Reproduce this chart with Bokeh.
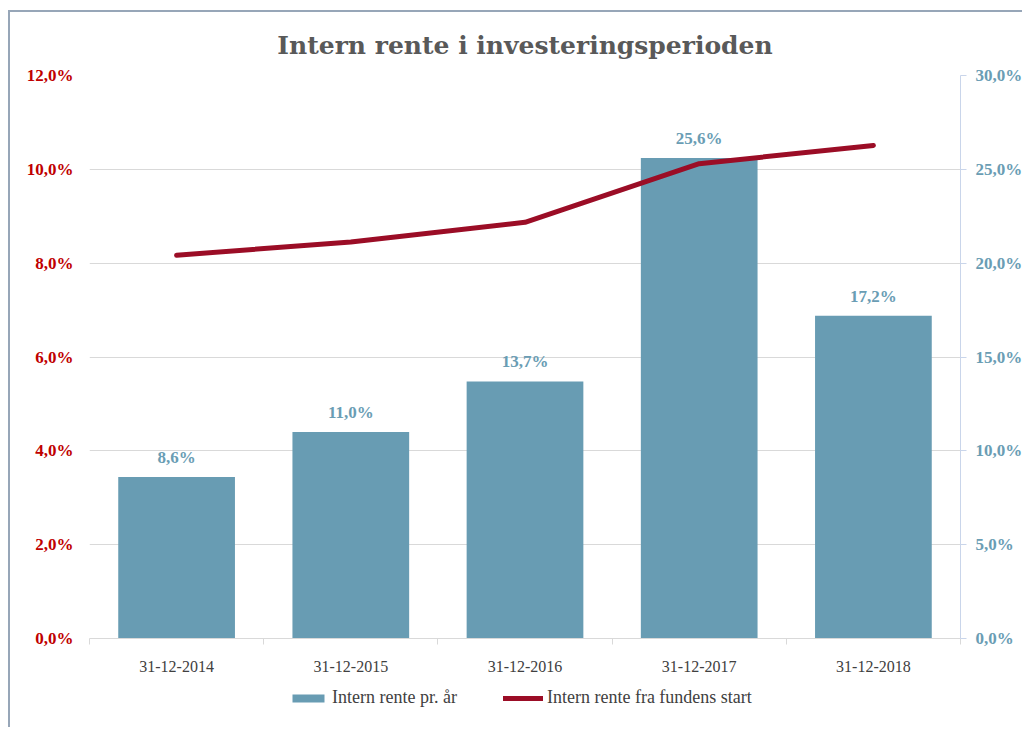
from bokeh.plotting import figure
from bokeh.layouts import column
from bokeh.models import (Range1d, LinearAxis, FixedTicker, Legend, LegendItem,
                          ColumnDataSource, LabelSet)
from bokeh.embed import file_html
from bokeh.resources import INLINE

# ---- data ----
categories = ["31-12-2014", "31-12-2015", "31-12-2016", "31-12-2017", "31-12-2018"]
bar_values = [8.6, 11.0, 13.7, 25.6, 17.2]          # Intern rente pr. år (right axis, %)
bar_labels = ["8,6%", "11,0%", "13,7%", "25,6%", "17,2%"]
line_values = [8.17, 8.45, 8.87, 10.12, 10.51]     # Intern rente fra fundens start (left axis, %)
left_ticks = [0, 2, 4, 6, 8, 10, 12]
left_tick_labels = ["0,0%", "2,0%", "4,0%", "6,0%", "8,0%", "10,0%", "12,0%"]
right_ticks = [0, 5, 10, 15, 20, 25, 30]
right_tick_labels = ["0,0%", "5,0%", "10,0%", "15,0%", "20,0%", "25,0%", "30,0%"]
series_names = ["Intern rente pr. år", "Intern rente fra fundens start"]

BAR = "#689cb3"
LINE = "#9b0d26"
RED = "#c00000"
BLUE_TXT = "#6a9db4"
GRID = "#d9d9d9"
SERIF = "Liberation Serif"

xs = [i + 0.5 for i in range(len(categories))]
src = ColumnDataSource(dict(x=xs, bar=bar_values, lbl=bar_labels, line=line_values))

p = figure(output_backend="svg", toolbar_location=None,
           x_range=Range1d(0, len(categories)), y_range=Range1d(0, 12),
           frame_width=871, frame_height=563,
           min_border_left=79, min_border_top=63, min_border_right=62, min_border_bottom=45,
           title="Intern rente i investeringsperioden")
p.outline_line_color = None
p.background_fill_color = "white"
p.border_fill_color = "white"

p.title.align = "center"
p.title.text_font = "DejaVu Serif"
p.title.text_font_style = "bold"
p.title.text_font_size = "25px"
p.title.text_color = "#595959"
p.title.offset = 0
p.title.standoff = 32

p.extra_y_ranges = {"right": Range1d(0, 30)}

# bars (right axis)
p.vbar(x="x", top="bar", width=0.67, source=src, y_range_name="right",
       fill_color=BAR, line_color=None)
# line (left axis)
p.line(x="x", y="line", source=src, line_color=LINE, line_width=5,
       line_cap="round", line_join="round")

labels = LabelSet(x="x", y="bar", text="lbl", source=src, y_range_name="right",
                  text_align="center", text_baseline="bottom", y_offset=10,
                  text_font=SERIF, text_font_style="bold", text_font_size="17px",
                  text_color=BLUE_TXT)
p.add_layout(labels)

# x axis
xa = p.xaxis[0]
xa.ticker = FixedTicker(ticks=xs, minor_ticks=list(range(len(categories) + 1)))
xa.major_label_overrides = {x: c for x, c in zip(xs, categories)}
xa.major_tick_line_color = None
xa.major_tick_out = 0
xa.major_tick_in = 0
xa.minor_tick_line_color = GRID
xa.minor_tick_out = 6
xa.minor_tick_in = 0
xa.axis_line_color = GRID
xa.axis_line_width = 1
xa.major_label_standoff = 16
xa.major_label_text_font = SERIF
xa.major_label_text_font_size = "16px"
xa.major_label_text_color = "#404040"

# left axis
ya = p.yaxis[0]
ya.ticker = FixedTicker(ticks=left_ticks)
ya.major_label_overrides = {t: l for t, l in zip(left_ticks, left_tick_labels)}
ya.axis_line_color = None
ya.major_tick_line_color = None
ya.major_tick_out = 0
ya.major_tick_in = 0
ya.minor_tick_line_color = None
ya.major_label_standoff = 16
ya.major_label_text_font = SERIF
ya.major_label_text_font_style = "bold"
ya.major_label_text_font_size = "17px"
ya.major_label_text_color = RED

# right axis
ra = LinearAxis(y_range_name="right", ticker=FixedTicker(ticks=right_ticks))
ra.major_label_overrides = {t: l for t, l in zip(right_ticks, right_tick_labels)}
ra.axis_line_color = "#c9d5ea"
ra.major_tick_line_color = "#c9d5ea"
ra.major_tick_out = 6
ra.major_tick_in = 0
ra.minor_tick_line_color = None
ra.major_label_standoff = 9
ra.major_label_text_font = SERIF
ra.major_label_text_font_style = "bold"
ra.major_label_text_font_size = "17px"
ra.major_label_text_color = BLUE_TXT
p.add_layout(ra, "right")

p.xgrid.grid_line_color = None
p.ygrid.grid_line_color = GRID
p.ygrid.ticker = FixedTicker(ticks=left_ticks)

# ---- legend strip (separate figure below the chart, same series) ----
lp = figure(width=1012, height=44, output_backend="svg", toolbar_location=None,
            x_axis_type=None, y_axis_type=None,
            x_range=Range1d(100, 101), y_range=Range1d(100, 101),
            min_border=0, min_border_left=0, min_border_right=0,
            min_border_top=0, min_border_bottom=0)
lp.outline_line_color = None
lp.background_fill_color = "white"
lp.border_fill_color = "white"
lb = lp.vbar(x="x", top="bar", width=0.67, source=src, fill_color=BAR, line_color=None)
ll = lp.line(x="x", y="line", source=src, line_color=LINE, line_width=5, line_cap="round")

legend = Legend(items=[LegendItem(label=series_names[0], renderers=[lb]),
                       LegendItem(label=series_names[1], renderers=[ll])],
                orientation="horizontal", location=(199, 19),
                glyph_width=40, glyph_height=10, label_standoff=4, spacing=46,
                label_text_font=SERIF, label_text_font_size="18px",
                label_text_color="#404040", border_line_color=None,
                background_fill_alpha=0, padding=4, margin=0)
lp.add_layout(legend)

layout = column(p, lp, spacing=0,
                styles={"border-left": "2px solid #97a6b8", "border-top": "2px solid #97a6b8",
                        "margin-top": "10px", "margin-left": "8px"})

open("out.html", "w").write(file_html(layout, INLINE))
